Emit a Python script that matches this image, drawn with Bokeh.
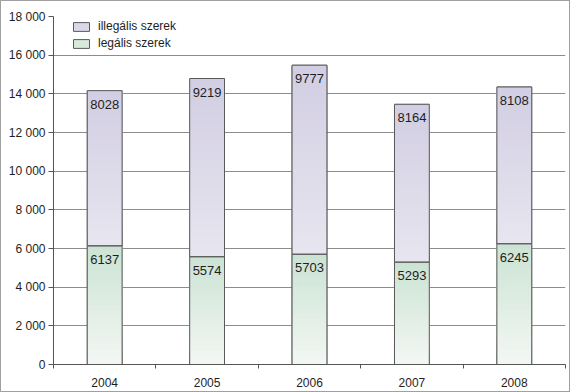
import numpy as np
from bokeh.plotting import figure
from bokeh.models import (ColumnDataSource, Range1d, FixedTicker, LabelSet,
                          Legend, LegendItem)
from bokeh.core.properties import value
from bokeh.embed import file_html
from bokeh.resources import INLINE

# ---- data ----
years = ["2004", "2005", "2006", "2007", "2008"]
legalis = [6137, 5574, 5703, 5293, 6245]
illegalis = [8028, 9219, 9777, 8164, 8108]
y_ticks = [0, 2000, 4000, 6000, 8000, 10000, 12000, 14000, 16000, 18000]
y_tick_labels = ["0", "2 000", "4 000", "6 000", "8 000", "10 000",
                 "12 000", "14 000", "16 000", "18 000"]
label_ill = "illegális szerek"
label_leg = "legális szerek"

FONT = "Liberation Sans"
BAR_W = 0.34
GREEN_TOP, GREEN_BOT = (203, 227, 211), (243, 247, 244)
LAV_TOP, LAV_BOT = (210, 206, 227), (231, 229, 239)
N_STEPS = 24

xs = list(range(len(years)))
leg_bottom = [0] * len(years)
leg_top = list(legalis)
ill_bottom = list(legalis)
ill_top = [a + b for a, b in zip(legalis, illegalis)]


def hexc(c):
    return "#%02x%02x%02x" % tuple(int(round(v)) for v in c)


def mix(c1, c2, t):
    return tuple(a + (b - a) * t for a, b in zip(c1, c2))


p = figure(width=570, height=392, output_backend="svg", toolbar_location=None,
           x_range=Range1d(-0.5, len(years) - 0.5), y_range=Range1d(0, 18000),
           min_border_left=53, min_border_right=5, min_border_top=16,
           min_border_bottom=28)
p.outline_line_color = None
p.background_fill_color = "white"
p.border_fill_color = "white"
p.border_fill_alpha = 0
p.styles = {"box-shadow": "inset 0 0 0 1px #a0a0a0", "background-color": "white"}

# base bars (used for legend), solid mid colours
base_src_leg = ColumnDataSource(dict(x=xs, bottom=leg_bottom, top=leg_top))
base_src_ill = ColumnDataSource(dict(x=xs, bottom=ill_bottom, top=ill_top))
r_leg = p.vbar(x="x", bottom="bottom", top="top", width=BAR_W, source=base_src_leg,
               fill_color=hexc(mix(GREEN_TOP, GREEN_BOT, 0.3)), line_color="#5a5a5a",
               line_width=1)
r_ill = p.vbar(x="x", bottom="bottom", top="top", width=BAR_W, source=base_src_ill,
               fill_color=hexc(mix(LAV_TOP, LAV_BOT, 0.4)), line_color="#5a5a5a",
               line_width=1)

# gradient overlay (slices derived from the data)
gx, gb, gt, gc = [], [], [], []
for bottoms, tops, ctop, cbot in ((leg_bottom, leg_top, GREEN_TOP, GREEN_BOT),
                                  (ill_bottom, ill_top, LAV_TOP, LAV_BOT)):
    for xi, b, t in zip(xs, bottoms, tops):
        for k in range(N_STEPS):
            frac = k / N_STEPS
            gx.append(xi)
            gb.append(b + (t - b) * frac)
            gt.append(t)
            gc.append(hexc(mix(cbot, ctop, (k + 0.5) / N_STEPS)))
p.vbar(x="x", bottom="bottom", top="top", width=BAR_W,
       source=ColumnDataSource(dict(x=gx, bottom=gb, top=gt, color=gc)),
       fill_color="color", line_color=None)

# outlines on top
for src in (base_src_leg, base_src_ill):
    p.vbar(x="x", bottom="bottom", top="top", width=BAR_W, source=src,
           fill_color=None, line_color="#5a5a5a", line_width=1)

# value labels
lab_src = ColumnDataSource(dict(
    x=xs + xs,
    y=leg_top + ill_top,
    t=[str(v) for v in legalis] + [str(v) for v in illegalis]))
p.add_layout(LabelSet(x="x", y="y", text="t", source=lab_src, text_align="center",
                      text_baseline="top", y_offset=-9,
                      text_font_size=value("13px"), text_font=value(FONT),
                      text_color="#1e1e1e"))

# axes
p.yaxis.ticker = FixedTicker(ticks=y_ticks)
p.yaxis.major_label_overrides = {t: l for t, l in zip(y_ticks, y_tick_labels)}
p.yaxis.minor_tick_line_color = None
p.yaxis.major_tick_out = 5
p.yaxis.major_tick_in = 0
p.yaxis.major_label_standoff = 3
for ax in (p.xaxis, p.yaxis):
    ax.axis_line_color = "#555555"
    ax.major_tick_line_color = "#555555"
    ax.major_label_text_font = FONT
    ax.major_label_text_font_size = "12px"
    ax.major_label_text_color = "#1e1e1e"

p.xaxis.ticker = FixedTicker(ticks=xs, minor_ticks=[i - 0.5 for i in range(len(years) + 1)])
p.xaxis.major_label_overrides = {i: y for i, y in zip(xs, years)}
p.xaxis.major_tick_line_color = None
p.xaxis.minor_tick_line_color = "#555555"
p.xaxis.minor_tick_out = 4
p.xaxis.minor_tick_in = 0
p.xaxis.major_label_standoff = 7

p.xgrid.grid_line_color = None
p.ygrid.ticker = FixedTicker(ticks=y_ticks)
p.ygrid.grid_line_color = "#8c8c8c"
p.ygrid.grid_line_width = 1

legend = Legend(items=[LegendItem(label=label_ill, renderers=[r_ill]),
                       LegendItem(label=label_leg, renderers=[r_leg])],
                location=(18, 314), orientation="vertical")
legend.glyph_width = 20
legend.glyph_height = 11
legend.label_height = 12
legend.spacing = 3
legend.padding = 4
legend.margin = 0
legend.label_standoff = 7
legend.label_text_font = FONT
legend.label_text_font_size = "12px"
legend.label_text_color = "#1e1e1e"
legend.border_line_color = None
legend.background_fill_alpha = 0
p.add_layout(legend)

open("out.html", "w").write(file_html(p, INLINE))
